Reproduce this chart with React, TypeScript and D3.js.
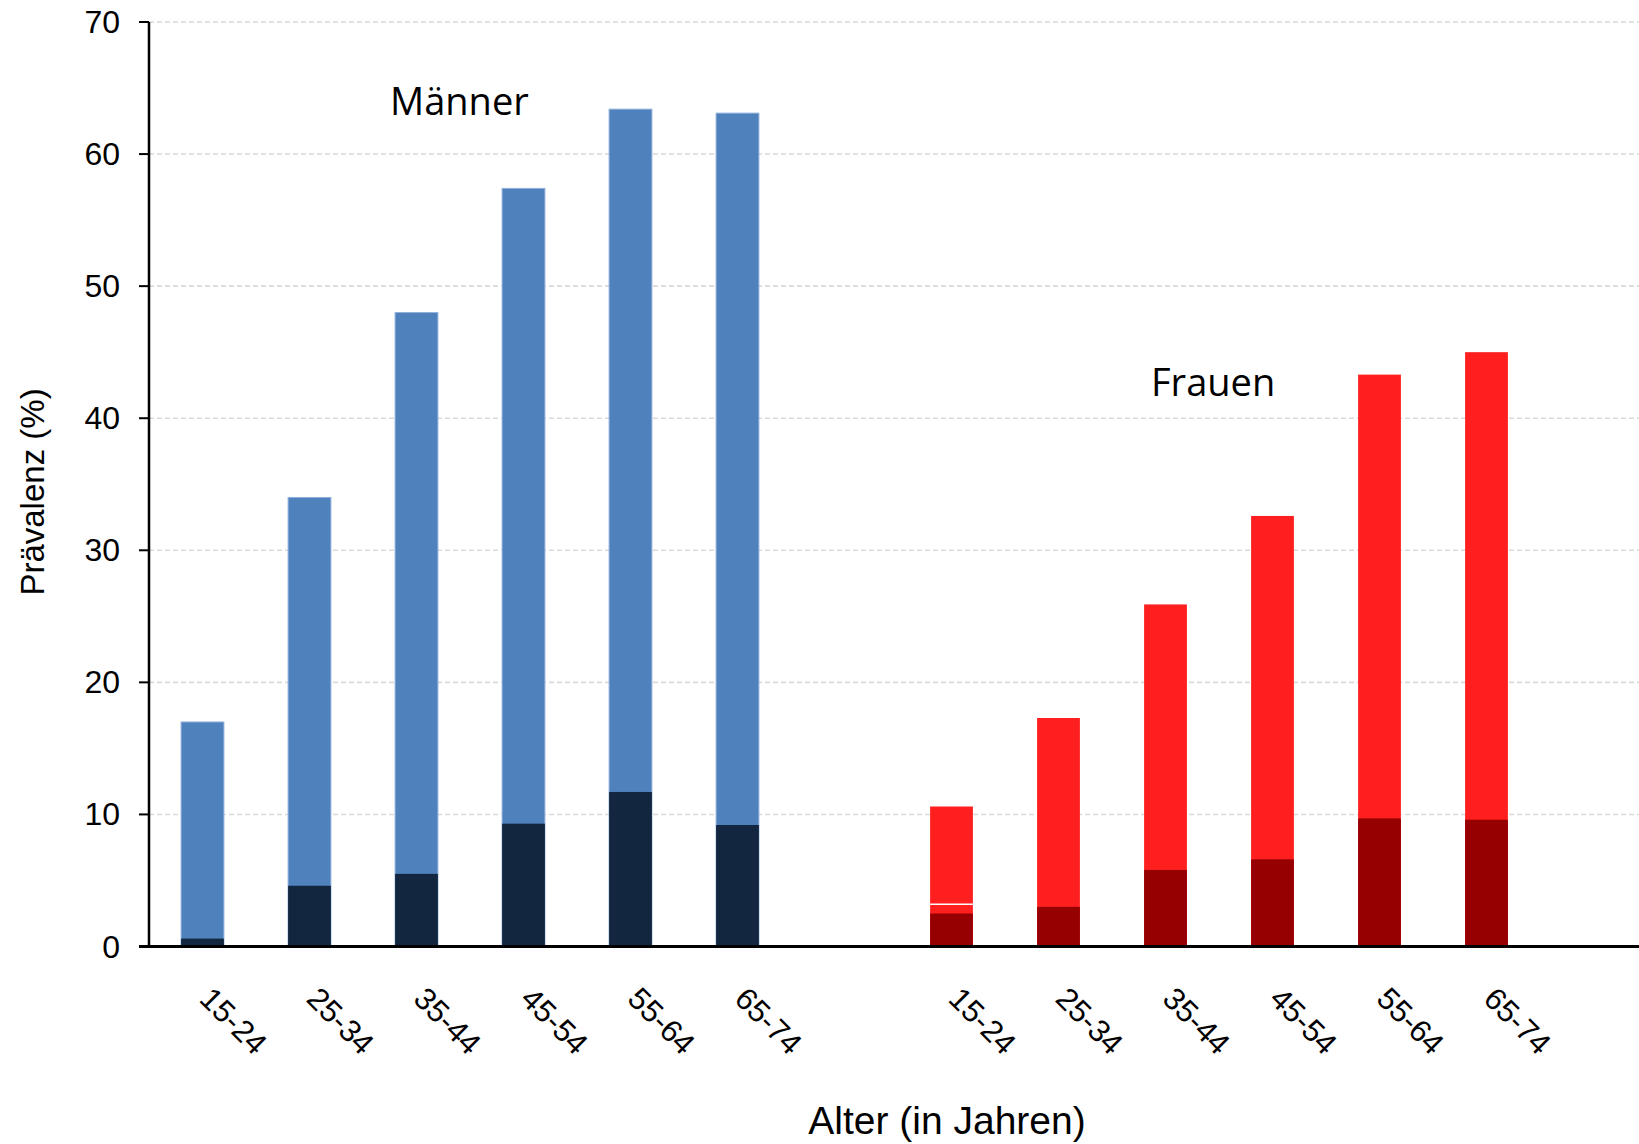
import { useMemo } from "react";
import * as d3 from "d3";

const WIDTH = 1639;
const HEIGHT = 1144;
const MARGIN = { top: 22, left: 149, bottom: 197.5 };
const STEP = 107;

const ageGroups = ["15-24", "25-34", "35-44", "45-54", "55-64", "65-74"];
const menTotal = [17.0, 34.0, 48.0, 57.4, 63.4, 63.1];
const menDark = [0.6, 4.6, 5.5, 9.3, 11.7, 9.2];
const womenTotal = [10.6, 17.3, 25.9, 32.6, 43.3, 45.0];
const womenDark = [2.5, 3.0, 5.8, 6.6, 9.7, 9.6];
const womenMark = [3.2, null, null, null, null, null];
const yTicks = [0, 10, 20, 30, 40, 50, 60, 70];

const COLORS = {
  men: "#4f81bd",
  menDark: "#12263f",
  women: "#ff1f1f",
  womenDark: "#970000",
  grid: "#d9d9d9",
};

const slots = [
  ...ageGroups.map((a) => "M" + a),
  "gap",
  ...ageGroups.map((a) => "F" + a),
  "end",
];

const AXIS_FONT = "'Liberation Sans', Arial, sans-serif";
const LABEL_FONT = "'Open Sans', Lato, sans-serif";

export default function App() {
  const plotBottom = HEIGHT - MARGIN.bottom;

  const xScale = useMemo(
    () =>
      d3
        .scaleBand()
        .domain(slots)
        .range([MARGIN.left, MARGIN.left + STEP * slots.length])
        .paddingInner(0.6)
        .paddingOuter(0.3),
    []
  );

  const yScale = useMemo(
    () => d3.scaleLinear().domain([0, 70]).range([plotBottom, MARGIN.top]),
    [plotBottom]
  );

  const bw = xScale.bandwidth();

  const groups = [
    { prefix: "M", total: menTotal, dark: menDark, light: COLORS.men, deep: COLORS.menDark, stroke: "#8fb0d9" },
    { prefix: "F", total: womenTotal, dark: womenDark, light: COLORS.women, deep: COLORS.womenDark, stroke: "none" },
  ];

  return (
    <div style={{ position: "absolute", left: 0, top: 0, background: "#fff" }}>
      <svg width={WIDTH} height={HEIGHT} style={{ display: "block", overflow: "hidden" }}>
        <rect width={WIDTH} height={HEIGHT} fill="#fff" />

        {/* gridlines */}
        {yTicks
          .filter((t) => t > 0)
          .map((t) => (
            <line
              key={"g" + t}
              x1={MARGIN.left}
              x2={WIDTH}
              y1={yScale(t)}
              y2={yScale(t)}
              stroke={COLORS.grid}
              strokeWidth={1.6}
              strokeDasharray="5,3"
            />
          ))}

        {/* bars */}
        {groups.map((g) =>
          ageGroups.map((a, i) => {
            const x = xScale(g.prefix + a) as number;
            return (
              <g key={g.prefix + a}>
                <rect
                  x={x}
                  width={bw}
                  y={yScale(g.total[i])}
                  height={plotBottom - yScale(g.total[i])}
                  fill={g.light}
                  stroke={g.stroke}
                  strokeWidth={1}
                />
                <rect
                  x={x}
                  width={bw}
                  y={yScale(g.dark[i])}
                  height={plotBottom - yScale(g.dark[i])}
                  fill={g.deep}
                />
              </g>
            );
          })
        )}

        {/* thin white mark inside first women bar */}
        {womenMark.map((v, i) =>
          v == null ? null : (
            <line
              key={"wm" + i}
              x1={xScale("F" + ageGroups[i]) as number}
              x2={(xScale("F" + ageGroups[i]) as number) + bw}
              y1={yScale(v)}
              y2={yScale(v)}
              stroke="#fff"
              strokeWidth={1.5}
            />
          )
        )}

        {/* y axis */}
        <line x1={MARGIN.left} x2={MARGIN.left} y1={yScale(70)} y2={plotBottom} stroke="#000" strokeWidth={2.5} />
        {yTicks.map((t) => (
          <g key={"t" + t}>
            <line x1={MARGIN.left - 10} x2={MARGIN.left} y1={yScale(t)} y2={yScale(t)} stroke="#000" strokeWidth={2} />
            <text
              x={MARGIN.left - 29}
              y={yScale(t)}
              textAnchor="end"
              dominantBaseline="central"
              fontFamily={AXIS_FONT}
              fontSize={32}
              fill="#000"
            >
              {t}
            </text>
          </g>
        ))}

        {/* x axis */}
        <line x1={MARGIN.left - 10} x2={WIDTH} y1={plotBottom} y2={plotBottom} stroke="#000" strokeWidth={3} />
        {groups.map((g) =>
          ageGroups.map((a) => {
            const cx = (xScale(g.prefix + a) as number) + bw / 2 - 4.5;
            const cy = plotBottom + 54;
            return (
              <text
                key={"xl" + g.prefix + a}
                transform={`translate(${cx},${cy}) rotate(45)`}
                fontFamily={AXIS_FONT}
                fontSize={31}
                fill="#000"
              >
                {a}
              </text>
            );
          })
        )}

        {/* axis titles */}
        <text
          x={947}
          y={1134}
          textAnchor="middle"
          fontFamily={AXIS_FONT}
          fontSize={39}
          fill="#000"
        >
          Alter (in Jahren)
        </text>
        <text
          transform={`translate(44,492) rotate(-90)`}
          textAnchor="middle"
          fontFamily={AXIS_FONT}
          fontSize={33}
          fill="#000"
        >
          Prävalenz (%)
        </text>

        {/* group labels */}
        <text x={390} y={115} fontFamily={LABEL_FONT} fontSize={38} fill="#000">
          Männer
        </text>
        <text x={1151} y={396} fontFamily={LABEL_FONT} fontSize={38} fill="#000">
          Frauen
        </text>
      </svg>
    </div>
  );
}
